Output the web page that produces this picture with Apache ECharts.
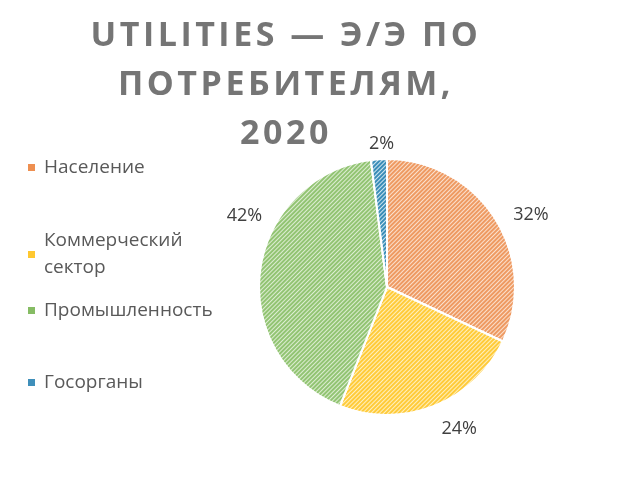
<!DOCTYPE html>
<html>
<head>
<meta charset="utf-8">
<script src="https://cdn.jsdelivr.net/npm/echarts@6/dist/echarts.min.js"></script>
<style>
html,body{margin:0;padding:0;background:#fff;}
#chart{width:620px;height:484px;}
</style>
</head>
<body>
<div id="chart"></div>
<script>
// ---- data ----
const titleText = 'UTILITIES — Э/Э ПО\nПОТРЕБИТЕЛЯМ,\n2020';
const categories = ['Население', 'Коммерческий сектор', 'Промышленность', 'Госорганы'];
const values = [32, 24, 42, 2];

// ---- styles ----
const lineColors = ['#EE9A62', '#FFCB3A', '#92C473', '#3A8DB8'];
const baseColors = ['#FBE0CD', '#FFF0BF', '#DDEDD2', '#CFE6F0'];
const iconColors = ['#EE8F50', '#FFC830', '#86BC64', '#3F8FBA'];
const legendTops = [154, 214, 297, 369];
const labelShift = [[3, 3], [-2, 12], [19, -54], [21, -3]];

// letter spacing for the big title text
const origFill = CanvasRenderingContext2D.prototype.fillText;
CanvasRenderingContext2D.prototype.fillText = function (t, x, y, m) {
  const prev = this.letterSpacing;
  if (this.font && this.font.indexOf('34px') >= 0) this.letterSpacing = '3.5px';
  if (m === undefined) origFill.call(this, t, x, y); else origFill.call(this, t, x, y, m);
  this.letterSpacing = prev;
};

const chart = echarts.init(document.getElementById('chart'), null, {renderer: 'canvas'});

const decalFor = i => ({
  symbol: 'rect', symbolSize: 1,
  dashArrayX: [1, 0], dashArrayY: [2, 1],
  rotation: -Math.PI / 4,
  color: lineColors[i]
});

const legends = categories.map((name, i) => ({
  orient: 'vertical',
  left: 28,
  top: legendTops[i],
  padding: 0,
  itemWidth: 7, itemHeight: 7,
  icon: 'rect',
  data: [{
    name,
    itemStyle: {color: iconColors[i], borderWidth: 0, decal: 'none'}
  }],
  formatter: n => n === 'Коммерческий сектор' ? 'Коммерческий\nсектор' : n,
  textStyle: {
    fontFamily: 'Open Sans', fontSize: 19, color: '#595959', lineHeight: 27,
    padding: name === 'Коммерческий сектор' ? [27, 0, 0, 4] : [0, 0, 0, 4]
  }
}));

chart.setOption({
  animation: false,
  title: {
    text: titleText,
    left: 286,
    top: 12,
    padding: 0,
    textAlign: 'center',
    textStyle: {
      fontFamily: 'Open Sans', fontWeight: 'bold', fontSize: 34,
      lineHeight: 49, color: '#757575'
    }
  },
  legend: legends,
  series: [{
    type: 'pie',
    center: [387, 287],
    radius: 128,
    startAngle: 90,
    clockwise: true,
    avoidLabelOverlap: false,
    label: {
      show: true, position: 'outside',
      formatter: p => p.value + '%',
      fontFamily: 'Open Sans', fontSize: 18, color: '#404040'
    },
    labelLine: {show: false, length: 12, length2: 0},
    labelLayout: p => ({dx: labelShift[p.dataIndex][0], dy: labelShift[p.dataIndex][1]}),
    itemStyle: {borderColor: '#ffffff', borderWidth: 2},
    emphasis: {disabled: true},
    data: categories.map((name, i) => ({
      name, value: values[i],
      itemStyle: {color: baseColors[i], decal: decalFor(i)}
    }))
  }]
});
</script>
</body>
</html>
